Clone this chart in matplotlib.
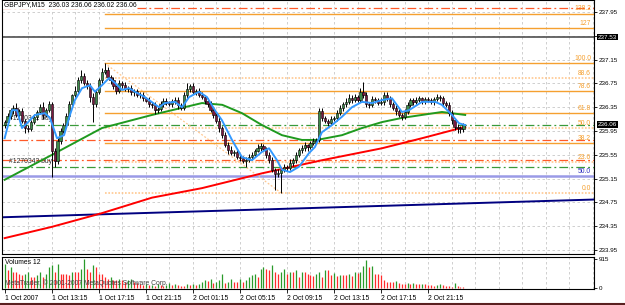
"""GBPJPY M15 MetaTrader-style chart with fib levels, moving averages and volumes."""
import matplotlib
matplotlib.use("Agg")
import matplotlib.pyplot as plt
import numpy as np

plt.rcParams["font.family"] = ["Liberation Sans", "DejaVu Sans"]

# ---- data ------------------------------------------------------------------
title = "GBPJPY,M15  236.03 236.06 236.02 236.06"
first_open = 236.05
closes = [
    236.10, 236.20, 236.30, 236.34, 236.22, 236.28, 236.12, 236.00, 235.98, 236.10,
    236.18, 236.27, 236.35, 236.22, 236.30, 236.40, 235.62, 235.45, 235.78, 235.95,
    236.05, 236.20, 236.40, 236.55, 236.62, 236.80, 236.88, 236.75, 236.70, 236.52,
    236.40, 236.60, 236.80, 236.95, 236.98, 236.85, 236.80, 236.70, 236.62, 236.75,
    236.72, 236.65, 236.68, 236.60, 236.62, 236.55, 236.56, 236.50, 236.46, 236.40,
    236.38, 236.30, 236.32, 236.40, 236.46, 236.42, 236.40, 236.45, 236.47, 236.38,
    236.34, 236.55, 236.65, 236.70, 236.60, 236.62, 236.56, 236.52, 236.46, 236.40,
    236.30, 236.22, 236.12, 236.00, 235.88, 235.72, 235.63, 235.58, 235.60, 235.52,
    235.50, 235.45, 235.46, 235.52, 235.55, 235.62, 235.66, 235.70, 235.65, 235.55,
    235.46, 235.30, 235.22, 235.25, 235.30, 235.35, 235.33, 235.42, 235.46, 235.55,
    235.63, 235.66, 235.71, 235.68, 235.75, 235.78, 235.80, 236.28, 236.17, 236.12,
    236.08, 236.15, 236.17, 236.25, 236.34, 236.40, 236.44, 236.50, 236.47, 236.52,
    236.47, 236.60, 236.56, 236.40, 236.39, 236.48, 236.47, 236.42, 236.44, 236.55,
    236.50, 236.40, 236.34, 236.28, 236.22, 236.18, 236.27, 236.38, 236.47, 236.44,
    236.47, 236.50, 236.45, 236.48, 236.47, 236.44, 236.49, 236.52, 236.50, 236.42,
    236.39, 236.25, 236.13, 236.02, 236.00, 235.98, 236.06,
]
# wick lengths above / below the candle body, in pips (0.01)
upper_wick = [
    4, 6, 3, 5, 8, 4, 6, 3, 5, 4,
    5, 3, 6, 8, 4, 5, 3, 4, 6, 5,
    4, 6, 5, 3, 8, 5, 9, 4, 6, 5,
    7, 5, 4, 6, 11, 5, 4, 6, 3, 5,
    4, 6, 3, 5, 4, 3, 5, 4, 3, 6,
    4, 5, 3, 6, 4, 5, 3, 4, 6, 5,
    4, 5, 11, 4, 6, 3, 5, 4, 3, 4,
    5, 3, 4, 6, 3, 5, 4, 6, 3, 4,
    5, 3, 6, 4, 5, 3, 8, 5, 4, 3,
    4, 5, 3, 6, 4, 5, 3, 6, 4, 5,
    4, 6, 5, 3, 4, 5, 3, 6, 5, 4,
    3, 5, 4, 6, 5, 4, 6, 8, 5, 6,
    4, 8, 17, 5, 4, 6, 5, 4, 6, 5,
    6, 4, 3, 5, 4, 3, 5, 6, 4, 3,
    5, 4, 3, 4, 5, 3, 4, 6, 3, 4,
    3, 4, 5, 3, 4, 3, 2,
]
lower_wick = [
    5, 3, 4, 6, 3, 5, 4, 8, 5, 3,
    4, 5, 3, 6, 4, 3, 44, 10, 5, 4,
    3, 5, 4, 6, 3, 4, 5, 3, 4, 8,
    30, 4, 3, 5, 4, 3, 6, 4, 5, 3,
    4, 3, 5, 4, 6, 3, 4, 5, 3, 4,
    5, 6, 4, 3, 5, 4, 3, 5, 4, 6,
    4, 3, 5, 4, 3, 5, 4, 3, 5, 4,
    3, 5, 4, 6, 5, 4, 6, 3, 5, 4,
    5, 4, 10, 3, 5, 4, 3, 5, 4, 6,
    5, 4, 26, 5, 34, 4, 6, 3, 5, 4,
    3, 5, 4, 6, 3, 4, 5, 3, 6, 4,
    5, 3, 4, 5, 3, 6, 4, 3, 5, 4,
    3, 4, 5, 4, 6, 3, 5, 4, 3, 5,
    4, 5, 3, 6, 4, 5, 3, 4, 3, 5,
    4, 3, 5, 4, 3, 4, 5, 3, 4, 5,
    4, 5, 6, 5, 8, 6, 4,
]
volumes = [
    760, 580, 660, 500, 500, 450, 420, 450, 500, 350,
    350, 400, 500, 350, 450, 660, 720, 500, 760, 450,
    450, 450, 400, 500, 500, 500, 600, 915, 610, 500,
    720, 660, 450, 450, 350, 300, 350, 240, 240, 300,
    240, 190, 240, 300, 190, 150, 120, 100, 130, 90,
    110, 80, 120, 90, 70, 110, 150, 90, 120, 100,
    80, 60, 130, 110, 140, 100, 140, 190, 240, 220,
    300, 160, 190, 240, 450, 160, 190, 300, 190, 190,
    300, 190, 240, 350, 400, 450, 350, 610, 660, 610,
    560, 720, 500, 450, 500, 610, 450, 500, 500, 560,
    350, 500, 500, 450, 400, 370, 450, 500, 350, 580,
    560, 400, 470, 370, 420, 400, 400, 450, 370, 500,
    470, 500, 700, 890, 660, 710, 450, 450, 400, 260,
    190, 190, 190, 220, 160, 140, 140, 160, 140, 160,
    140, 115, 140, 115, 85, 85, 50, 85, 115, 85,
    50, 50, 30, 160, 50, 30, 30,
]

# moving averages: (bar index, price)
blue_ma_bar = [0, 2.5, 4.2, 5.9, 7.6, 10.3, 13.7, 15.4, 17.8, 20.2, 22.2, 23.9, 26.3,
               29.0, 30.7, 33.1, 35.5, 37.5, 39.9, 42.3, 44.3, 47.7, 52.5, 54.5,
               57.9, 60.3, 62.7, 66.1, 68.8, 71.5, 73.9, 77.3, 80.7, 84.1, 87.5,
               89.9, 92.6, 94.3, 97.0, 100.1, 103.5, 105.5, 107.9, 111.3, 114.7,
               118.1, 121.5, 124.9, 128.3, 131.7, 135.1, 137.5, 141.9, 146.4,
               148.7, 152.1, 154.5, 156.6]
blue_ma = [235.83, 236.30, 236.30, 236.00, 236.08, 236.22, 236.25, 236.17, 235.83,
           235.88, 236.22, 236.47, 236.67, 236.72, 236.61, 236.72, 236.84, 236.76,
           236.64, 236.67, 236.61, 236.52, 236.35, 236.42, 236.44, 236.35, 236.52,
           236.61, 236.52, 236.30, 236.13, 235.80, 235.51, 235.46, 235.60, 235.66,
           235.46, 235.30, 235.26, 235.35, 235.58, 235.68, 235.93, 236.05, 236.19,
           236.35, 236.44, 236.42, 236.47, 236.50, 236.27, 236.30, 236.44, 236.44,
           236.39, 236.22, 236.08, 236.05]
green_ma_bar = [0, 16.1, 33.1, 50.1, 67.1, 74.0, 80.7, 87.5, 94.3, 101.1, 106.2,
                114.7, 121.5, 128.3, 135.1, 148.7, 156.6]
green_ma = [235.13, 235.55, 236.00, 236.22, 236.42, 236.39, 236.25, 236.05, 235.88,
            235.80, 235.80, 235.88, 236.00, 236.10, 236.17, 236.27, 236.22]
red_ma_bar = [0, 16.1, 33.1, 50.1, 67.1, 87.6, 108.0, 128.3, 142.0, 156.6]
red_ma = [234.15, 234.34, 234.57, 234.83, 234.99, 235.24, 235.46, 235.66, 235.83, 236.02]

# trend line (dark blue) end points: (bar, price)
trend_bar = [-1.0, 201.5]
trend_price = [234.50, 234.80]

# fibonacci retracement anchors
fib_anchor_bar = [34, 94]
fib_anchor_price = [237.09, 234.91]
fib_levels = [0.0, 23.6, 38.2, 50.0, 61.8, 78.6, 88.6, 100.0, 127.0, 138.2]
fib_labels = ["0.0", "23.6", "38.2", "50.0", "61.8", "78.6", "88.6", "100.0", "127", "138.2"]
fib_dotted = [True, True, False, True, False, False, True, False, False, False]

# horizontal order / level lines
order_red = [238.02, 235.80, 235.46]
order_green = [236.05, 235.35]
order_text = [(236.10, "#1270341 buy"), (235.38, "#1270342 buy")]
hline_gray = 237.53
hline_blue = 235.19
hline_blue_label = "50.0"
last_price = 236.06

price_ticks = [233.95, 234.35, 234.75, 235.15, 235.55, 235.95, 236.35, 236.75,
               237.15, 237.55, 237.95]
date_bars = [0, 16, 32, 48, 64, 80, 96, 112, 128, 144]
date_labels = ["1 Oct 2007", "1 Oct 13:15", "1 Oct 17:15", "1 Oct 21:15",
               "2 Oct 01:15", "2 Oct 05:15", "2 Oct 09:15", "2 Oct 13:15",
               "2 Oct 17:15", "2 Oct 21:15"]

assert len(closes) == len(upper_wick) == len(lower_wick) == len(volumes)

# ---- layout (pixels of a 625x305 canvas) -----------------------------------
W, H = 625, 305
FS = 4.9
ORANGE = "#f5a030"
LIGHT_ORANGE = "#ffc890"
RED_DASH = "#ff5a28"
GREEN_DASH = "#3a9a3a"
GRID = "#c8c8c8"
XLIM = (-0.9, 200.4)


def px_axes(fig, x0, y0, x1, y1):
    return fig.add_axes([x0 / W, 1 - y1 / H, (x1 - x0) / W, (y1 - y0) / H])


fig = plt.figure(figsize=(W / 100, H / 100), dpi=100)
fig.patch.set_facecolor("white")
ax = px_axes(fig, 2, 0, 594, 254)
axv = px_axes(fig, 2, 257, 594, 289)

n = len(closes)
bars = np.arange(n)
opens = np.array([first_open] + closes[:-1])
closes_a = np.array(closes)
highs = np.maximum(opens, closes_a) + np.array(upper_wick) * 0.01
lows = np.minimum(opens, closes_a) - np.array(lower_wick) * 0.01

ax.set_xlim(*XLIM)
ax.set_ylim(233.883, 238.152)

# grid
for p in price_ticks:
    ax.axhline(p, color=GRID, lw=0.6, ls=(0, (3, 3)), zorder=0)
for b in range(8, 201, 8):
    ax.axvline(b, color=GRID, lw=0.6, ls=(0, (3, 3)), zorder=0)
    axv.axvline(b, color=GRID, lw=0.6, ls=(0, (3, 3)), zorder=0)

# order lines
for p in order_red:
    ax.axhline(p, color=RED_DASH, lw=0.9, ls=(0, (7, 2.5, 1.5, 2.5)), zorder=1)
for p in order_green:
    ax.axhline(p, color=GREEN_DASH, lw=0.9, ls=(0, (7, 2.5, 1.5, 2.5)), zorder=1)
for p, t in order_text:
    ax.text(1.5, p, t, fontsize=FS, color="#303030", va="bottom", zorder=1)
ax.axhline(hline_gray, color="#505050", lw=1.2, zorder=1)
ax.axhline(hline_blue, color="#9a9ae6", lw=1.8, zorder=1)
ax.text(0.995, hline_blue + 0.02, hline_blue_label, transform=ax.get_yaxis_transform(),
        ha="right", va="bottom", fontsize=FS, color="#3030c0")

# fibonacci
f0, f100 = fib_anchor_price[1], fib_anchor_price[0]
ax.plot(fib_anchor_bar, fib_anchor_price, color=LIGHT_ORANGE, lw=0.9, ls=(0, (1.5, 1.5)), zorder=1)
for lvl, lab, dotted in zip(fib_levels, fib_labels, fib_dotted):
    p = f0 + (f100 - f0) * lvl / 100
    ax.plot([fib_anchor_bar[0], XLIM[1]], [p, p], color=LIGHT_ORANGE if dotted else ORANGE,
            lw=1.2 if dotted else 1.0, ls=(0, (1, 1)) if dotted else "-", zorder=1)
    ax.text(0.995, p + 0.02, lab, transform=ax.get_yaxis_transform(), ha="right",
            va="bottom", fontsize=FS, color=ORANGE)

# trend line and moving averages
ax.plot(trend_bar, trend_price, color="#000080", lw=1.4, zorder=2)
ax.plot(red_ma_bar, red_ma, color="#ff0000", lw=1.4, zorder=2)
ax.plot(green_ma_bar, green_ma, color="#1f9a1f", lw=1.4, zorder=2)

# candles
up = closes_a >= opens
ax.vlines(bars, lows, highs, color="black", lw=0.7, zorder=3)
body = np.maximum(np.abs(closes_a - opens), 0.012)
ax.bar(bars[up], body[up], bottom=np.minimum(opens, closes_a)[up], width=0.75,
       color="#3d8a4a", edgecolor="black", lw=0.4, zorder=4)
ax.bar(bars[~up], body[~up], bottom=np.minimum(opens, closes_a)[~up], width=0.75,
       color="#7a1840", edgecolor="black", lw=0.4, zorder=4)
ax.plot(blue_ma_bar, blue_ma, color="#3399ff", lw=1.4, zorder=5)

# right price axis
ax.yaxis.tick_right()
ax.set_yticks(price_ticks)
ax.set_yticklabels([("" if abs(p - 237.55) < 1e-6 else f"{p:.2f}") for p in price_ticks])
ax.tick_params(axis="y", labelsize=FS - 0.4, length=2, pad=1.5, width=0.6)
ax.set_xticks([])
for lab_p, txt in [(hline_gray, f"{hline_gray:.2f}"), (last_price, f"{last_price:.2f}")]:
    ax.text(1.006, lab_p, txt, transform=ax.get_yaxis_transform(), fontsize=FS - 0.4,
            color="white", va="center", ha="left",
            bbox=dict(facecolor="black", edgecolor="none", pad=0.6), clip_on=False)

ax.text(0.003, 0.994, title, transform=ax.transAxes, fontsize=FS, va="top", ha="left",
        bbox=dict(facecolor="white", edgecolor="none", pad=0.3), zorder=6)

# volumes
vcol = ["#2a9a2a"] + ["#2a9a2a" if volumes[i] > volumes[i - 1] else "#ff2a2a"
                      for i in range(1, n)]
axv.vlines(bars, 0, volumes, colors=vcol, lw=0.9)
axv.set_xlim(*XLIM)
axv.set_ylim(-30, 985)
axv.yaxis.tick_right()
axv.set_yticks([0, 915])
axv.set_yticklabels(["0", "915"])
axv.tick_params(axis="y", labelsize=FS - 0.4, length=2, pad=1.5, width=0.6)
axv.set_xticks(date_bars)
axv.set_xticklabels(date_labels, ha="left")
axv.tick_params(axis="x", labelsize=FS, length=3, pad=1, width=0.6)
axv.text(0.005, 0.95, "Volumes 12", transform=axv.transAxes, fontsize=FS, va="top")
axv.text(0.005, 0.06, "MetaTrader, \u00a9 2001-2007 MetaQuotes Software Corp.",
         transform=axv.transAxes, fontsize=FS, va="bottom", color="#404040")

for a in (ax, axv):
    for s in a.spines.values():
        s.set_linewidth(0.8)
        s.set_color("black")

fig.add_artist(plt.Line2D([0, 1], [0.004, 0.004], color="#5a2020", lw=1.5,
                          transform=fig.transFigure))
fig.savefig("out.png", dpi=100)
